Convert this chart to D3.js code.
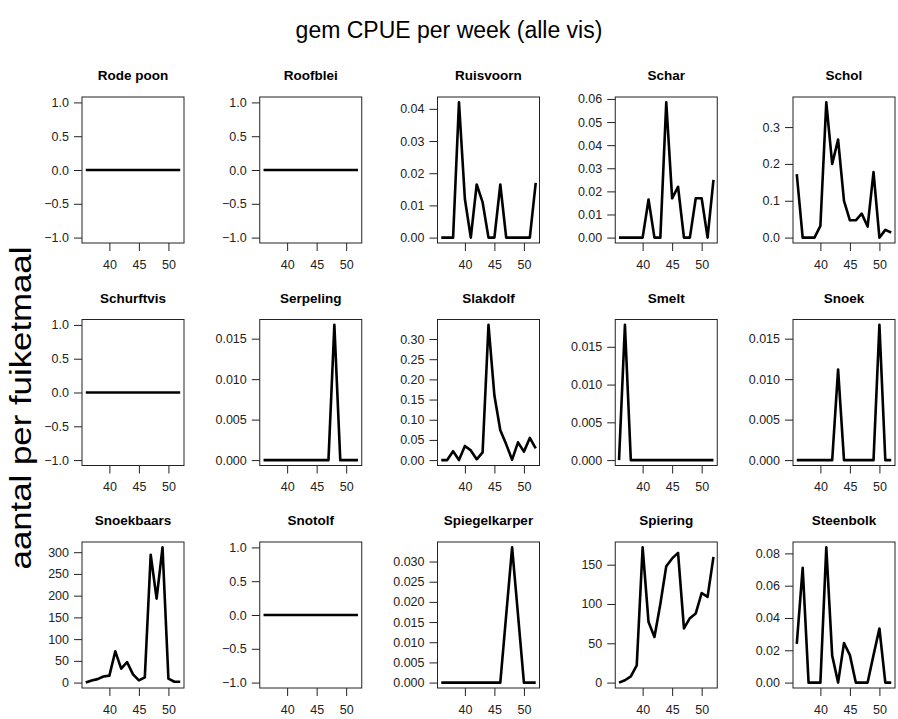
<!DOCTYPE html>
<html>
<head>
<meta charset="utf-8">
<script src="https://cdn.jsdelivr.net/npm/d3@7"></script>
<style>
  html, body { margin: 0; padding: 0; background: #fff; }
  svg { display: block; font-family: "Liberation Sans", Arial, sans-serif; }
</style>
</head>
<body>
<svg id="chart" width="898" height="719"></svg>
<script>
// Weeks sampled in every panel
const weeks = [36, 37, 38, 39, 40, 41, 42, 43, 44, 45, 46, 47, 48, 49, 50, 51, 52];

// Species, in panel order (row by row)
const species = [
  "Rode poon", "Roofblei", "Ruisvoorn", "Schar", "Schol",
  "Schurftvis", "Serpeling", "Slakdolf", "Smelt", "Snoek",
  "Snoekbaars", "Snotolf", "Spiegelkarper", "Spiering", "Steenbolk"
];

// Mean CPUE per week for each species
const rodePoon      = [0, 0, 0, 0, 0, 0, 0, 0, 0, 0, 0, 0, 0, 0, 0, 0, 0];
const roofblei      = [0, 0, 0, 0, 0, 0, 0, 0, 0, 0, 0, 0, 0, 0, 0, 0, 0];
const ruisvoorn     = [0, 0, 0, 0.042, 0.012, 0, 0.0165, 0.011, 0, 0, 0.0165, 0, 0, 0, 0, 0, 0.017];
const schar         = [0, 0, 0, 0, 0, 0.0165, 0, 0, 0.0585, 0.017, 0.022, 0, 0, 0.017, 0.017, 0, 0.025];
const schol         = [0.172, 0, 0, 0, 0.032, 0.367, 0.2, 0.266, 0.1, 0.047, 0.047, 0.065, 0.03, 0.178, 0, 0.021, 0.014];
const schurftvis    = [0, 0, 0, 0, 0, 0, 0, 0, 0, 0, 0, 0, 0, 0, 0, 0, 0];
const serpeling     = [0, 0, 0, 0, 0, 0, 0, 0, 0, 0, 0, 0, 0.0167, 0, 0, 0, 0];
const slakdolf      = [0, 0, 0.022, 0, 0.035, 0.024, 0.002, 0.019, 0.335, 0.16, 0.074, 0.039, 0.001, 0.044, 0.021, 0.055, 0.029];
const smelt         = [0, 0.0179, 0, 0, 0, 0, 0, 0, 0, 0, 0, 0, 0, 0, 0, 0, 0];
const snoek         = [0, 0, 0, 0, 0, 0, 0, 0.0112, 0, 0, 0, 0, 0, 0, 0.0167, 0, 0];
const snoekbaars    = [0, 5, 8, 14, 16, 72, 32, 47, 19, 5, 12, 294, 193, 311, 9, 2, 2];
const snotolf       = [0, 0, 0, 0, 0, 0, 0, 0, 0, 0, 0, 0, 0, 0, 0, 0, 0];
const spiegelkarper = [0, 0, 0, 0, 0, 0, 0, 0, 0, 0, 0, 0.0168, 0.0335, 0.0168, 0, 0, 0];
const spiering      = [0, 3, 8, 22, 172, 77, 58, 100, 148, 158, 165, 69, 82, 88, 114, 109, 160];
const steenbolk     = [0.024, 0.071, 0, 0, 0, 0.0837, 0.0167, 0, 0.0245, 0.017, 0, 0, 0, 0.017, 0.0335, 0, 0];

const series = [
  rodePoon, roofblei, ruisvoorn, schar, schol,
  schurftvis, serpeling, slakdolf, smelt, snoek,
  snoekbaars, snotolf, spiegelkarper, spiering, steenbolk
];

// Step between y-axis tick labels per panel
const yTickStep = [
  0.5, 0.5, 0.01, 0.01, 0.1,
  0.5, 0.005, 0.05, 0.005, 0.005,
  50, 0.5, 0.005, 50, 0.02
];

// x-axis tick labels
const xTicks = [40, 45, 50];

const titleText = "gem CPUE per week (alle vis)";
const yAxisText = "aantal per fuiketmaal";

// ---- layout of the 3 x 5 grid ----
const svg = d3.select("#chart");
const nCols = 5;
const panelW = 102, panelH = 146;
const colLeft = d3.scaleLinear().domain([0, 4]).range([82, 793]);
const rowTop = d3.scaleLinear().domain([0, 2]).range([97, 542]);

// pad a data range by 4% at each end (R "r" axis style)
function padded(lo, hi) {
  const d = (hi - lo) * 0.04;
  return [lo - d, hi + d];
}

function decimals(step) {
  const s = String(step);
  const i = s.indexOf(".");
  return i < 0 ? 0 : s.length - i - 1;
}

svg.append("text")
  .attr("x", 449).attr("y", 38)
  .attr("text-anchor", "middle")
  .attr("font-size", 23)
  .attr("fill", "#000")
  .text(titleText);

// outer y-axis label, slightly stretched along its baseline
svg.append("text")
  .attr("transform", "translate(31,408) rotate(-90) scale(1.2,1)")
  .attr("text-anchor", "middle")
  .attr("font-size", 29)
  .attr("fill", "#000")
  .text(yAxisText);

species.forEach((name, i) => {
  const col = i % nCols, row = Math.floor(i / nCols);
  const x0 = colLeft(col), y0 = rowTop(row);
  const values = series[i];

  const x = d3.scaleLinear()
    .domain(padded(d3.min(weeks), d3.max(weeks)))
    .range([0, panelW]);

  let lo = d3.min(values), hi = d3.max(values);
  if (lo === hi) { lo -= 1; hi += 1; }
  const yDom = padded(lo, hi);
  const y = d3.scaleLinear().domain(yDom).range([panelH, 0]);

  // ticks cover the whole plotted range
  const step = yTickStep[i];
  const yTicks = d3.range(Math.ceil(yDom[0] / step - 1e-9), Math.floor(yDom[1] / step + 1e-9) + 1)
    .map(k => k * step);
  const fmt = d3.format("." + decimals(step) + "f");

  const g = svg.append("g").attr("transform", `translate(${x0},${y0})`);

  // panel title
  g.append("text")
    .attr("x", panelW / 2).attr("y", -17)
    .attr("text-anchor", "middle")
    .attr("font-size", 13.5)
    .attr("font-weight", "bold")
    .attr("fill", "#000")
    .text(name);

  // y axis
  const yAxis = d3.axisLeft(y).tickValues(yTicks).tickFormat(fmt).tickSizeOuter(0).tickSize(8).tickPadding(5);
  const ya = g.append("g").call(yAxis);
  ya.select(".domain").remove();
  ya.selectAll("text").attr("font-size", 12.5).attr("font-family", "Liberation Sans, Arial, sans-serif").attr("fill", "#222");
  ya.selectAll("line").attr("stroke", "#222");

  // x axis
  const xAxis = d3.axisBottom(x).tickValues(xTicks).tickFormat(d3.format("d")).tickSizeOuter(0).tickSize(8).tickPadding(9);
  const xa = g.append("g").attr("transform", `translate(0,${panelH})`).call(xAxis);
  xa.select(".domain").remove();
  xa.selectAll("text").attr("font-size", 12.5).attr("font-family", "Liberation Sans, Arial, sans-serif").attr("fill", "#222");
  xa.selectAll("line").attr("stroke", "#222");

  // frame
  g.append("rect")
    .attr("x", 0).attr("y", 0)
    .attr("width", panelW).attr("height", panelH)
    .attr("fill", "none").attr("stroke", "#222").attr("stroke-width", 1);

  // data line
  const line = d3.line().x((d, j) => x(weeks[j])).y(d => y(d));
  g.append("path")
    .datum(values)
    .attr("d", line)
    .attr("fill", "none")
    .attr("stroke", "#000")
    .attr("stroke-width", 2.6)
    .attr("stroke-linejoin", "round");
});
</script>
</body>
</html>
